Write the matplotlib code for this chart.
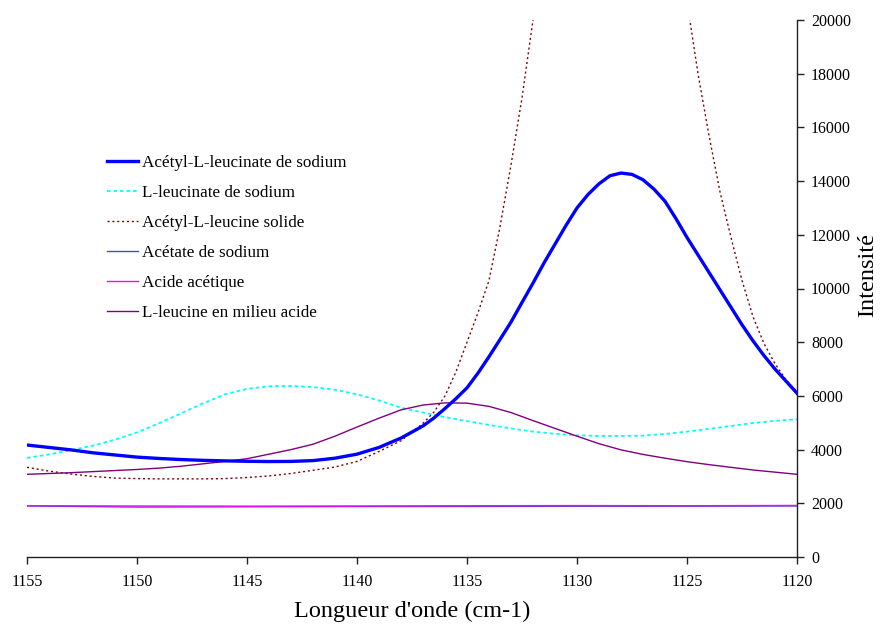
import numpy as np
import matplotlib
matplotlib.use("Agg")
import matplotlib.pyplot as plt

plt.rcParams['font.family'] = ['Liberation Serif', 'DejaVu Serif']

# Wavenumbers (cm-1)
wn = list(range(1155, 1119, -1))
# finer sampling for the peak region
wn_fine = list(range(1155, 1137, -1)) + [1137 - 0.5 * i for i in range(35)]

acetyl_leucinate_na = [4170, 4080, 3990, 3880, 3800, 3720, 3670, 3630, 3600, 3580,
                       3565, 3555, 3560, 3590, 3680, 3830, 4080, 4430,
                       4880, 5180, 5530, 5900, 6300, 6850, 7460, 8100, 8750, 9480,
                       10200, 10950, 11650, 12350, 13000, 13500, 13900, 14200, 14300, 14250,
                       14050, 13700, 13250, 12600, 11900, 11250, 10600, 9950, 9300, 8650,
                       8050, 7500, 7000, 6550, 6100]

leucinate_na = [3690, 3820, 3980, 4150, 4370, 4640, 4980, 5350, 5720, 6060,
                6260, 6360, 6370, 6330, 6230, 6060, 5830, 5560, 5380, 5210,
                5060, 4920, 4790, 4670, 4590, 4530, 4510, 4510, 4520, 4580,
                4670, 4770, 4880, 4990, 5070, 5130]

acetyl_leucine_solid = [3340, 3200, 3090, 3000, 2940, 2920, 2910, 2910, 2910, 2920,
                        2960, 3020, 3110, 3230, 3350, 3560, 3930, 4330,
                        4980, 5400, 6000, 6900, 8000, 9100, 10300, 12300, 14600, 17100,
                        20000, 22500, 24500, 26500, 28000, 29200, 30000, 30400, 30500, 30200,
                        29000, 27800, 26000, 23600, 20700, 18000, 15700, 13600, 11900, 10300,
                        8950, 7950, 7200, 6600, 6150]

leucine_acid = [3080, 3110, 3140, 3180, 3220, 3260, 3310, 3380, 3470, 3560,
                3660, 3830, 4000, 4200, 4500, 4840, 5170, 5480, 5660, 5740,
                5730, 5610, 5380, 5080, 4790, 4500, 4220, 3990, 3820, 3680,
                3550, 3440, 3340, 3240, 3160, 3080]

wn_flat = [1155, 1150, 1145, 1140, 1135, 1130, 1125, 1120]
acetate_na = [1900, 1860, 1870, 1880, 1880, 1890, 1890, 1900]
acetic_acid = [1910, 1900, 1895, 1900, 1910, 1915, 1910, 1920]

labels = ["Acétyl-L-leucinate de sodium", "L-leucinate de sodium",
          "Acétyl-L-leucine solide", "Acétate de sodium", "Acide acétique",
          "L-leucine en milieu acide"]

fig = plt.figure(figsize=(8.81, 6.28), dpi=100)
ax = fig.add_axes([27/881, 1 - 557/628, (797-27)/881, (557-20)/628])

ax.plot(wn_fine, acetyl_leucinate_na, color='#0000FF', lw=2.4, label=labels[0],
        zorder=5, solid_joinstyle='round')
ax.plot(wn, leucinate_na, color='#00FFFF', lw=1.3, ls=(0, (2, 1.6)), label=labels[1])
ax.plot(wn_fine, acetyl_leucine_solid, color='#800000', lw=1.0, ls=(0, (1.5, 2)), label=labels[2])
ax.plot(wn_flat, acetate_na, color='#4B4BC8', lw=1.0, label=labels[3])
ax.plot(wn_flat, acetic_acid, color='#FF00FF', lw=1.0, label=labels[4])
ax.plot(wn, leucine_acid, color='#800080', lw=1.0, label=labels[5])

ax.set_xlim(1155, 1120)
ax.set_ylim(0, 20000)
ax.set_xticks(range(1155, 1119, -5))
ax.set_yticks(range(0, 20001, 2000))

ax.spines['top'].set_visible(False)
ax.spines['left'].set_visible(False)
for s in ('bottom', 'right'):
    ax.spines[s].set_color('#222222')
    ax.spines[s].set_linewidth(1.0)
ax.yaxis.tick_right()
ax.yaxis.set_label_position('right')
ax.tick_params(axis='both', direction='out', length=5, width=1, colors='#222222',
               labelsize=11.5, labelcolor='black')
ax.tick_params(axis='x', pad=7)
ax.tick_params(axis='y', pad=5)

ax.set_xlabel("Longueur d'onde (cm-1)", fontsize=17.5, labelpad=8)
ax.set_ylabel("Intensité", fontsize=17.5, labelpad=4)
ax.yaxis.set_label_coords(1.078, 0.525)

leg = fig.legend(loc='upper left', bbox_to_anchor=(107/881, 1 - 155/628),
                 frameon=False, fontsize=12.3, handlelength=1.8, handletextpad=0.25,
                 labelspacing=0.82, borderpad=0, borderaxespad=0)

fig.savefig("out.png", dpi=100)
